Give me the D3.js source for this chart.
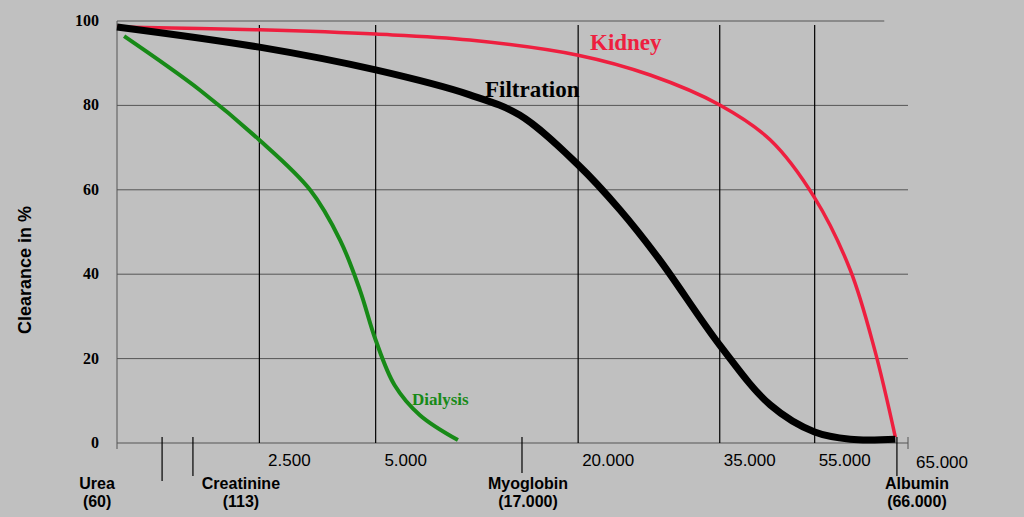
<!DOCTYPE html>
<html><head><meta charset="utf-8">
<script src="https://cdn.jsdelivr.net/npm/d3@7"></script>
<style>body{margin:0;background:#c0c0c0;}</style>
</head><body>
<script>
// x is an uneven molecular-weight axis, so positions are stored as 0..100 along the axis
var margin = {top: 21, left: 117};
var width = 791, height = 422;

var grid = [ {p:18, label:"2.500"}, {p:32.7, label:"5.000"}, {p:58.3, label:"20.000"},
             {p:76.2, label:"35.000"}, {p:88.2, label:"55.000"} ];
var markers = [ {p:5.7, name:"Urea", mw:"(60)", len:38, dx:-65},
                {p:9.6, name:"Creatinine", mw:"(113)", len:33, dx:48},
                {p:51.2, name:"Myoglobin", mw:"(17.000)", len:30, dx:6},
                {p:98.6, name:"Albumin", mw:"(66.000)", len:33, dx:20} ];

var series = [
  {name:"Kidney", color:"#ee1f3f", w:3.5, lx:590, ly:50, fs:23,
   data:[[0,98.6],[18,97.9],[32.7,96.9],[44.6,95.5],[58.3,91.9],[67.4,87.2],[76.2,80.1],
         [82.6,71.8],[88.2,58.1],[92.7,41.0],[95.8,22.0],[98.4,1.4]]},
  {name:"Filtration", color:"#000", w:7, lx:485, ly:97, fs:23,
   data:[[0,98.6],[18,93.8],[32.7,88.4],[44.6,82.5],[50.9,77.7],[58.3,65.9],[63.6,55.2],
         [68.6,43.4],[76.2,23.2],[82.6,9.0],[88.2,2.6],[92.7,0.9],[98.4,0.9]]},
  {name:"Dialysis", color:"#178a17", w:4, lx:412, ly:405, fs:17,
   data:[[0.9,96.4],[10.5,83.6],[18,71.8],[24.4,60.0],[28.2,48.1],[30.7,36.3],[32.7,24.4],
         [35.1,13.7],[38.3,6.6],[43.1,0.7]]}
];

var x = d3.scaleLinear().domain([0,100]).range([0,width]);
var y = d3.scaleLinear().domain([0,100]).range([height,0]);

var svg = d3.select("body").append("svg").attr("width",1024).attr("height",517)
  .append("g").attr("transform","translate("+margin.left+","+margin.top+")");

// horizontal grid
svg.selectAll(".hg").data([0,20,40,60,80,100]).enter().append("line")
  .attr("x1",0).attr("x2",function(d){return d==100? x(97): x(100);})
  .attr("y1",function(d){return y(d);}).attr("y2",function(d){return y(d);})
  .attr("stroke","#555").attr("stroke-width",1);
svg.selectAll(".yt").data([0,20,40,60,80,100]).enter().append("text")
  .attr("x",-18).attr("y",function(d){return y(d)+5;}).attr("text-anchor","end")
  .style("font","bold 16px 'Liberation Serif', serif").text(function(d){return d;});

// vertical grid
svg.append("line").attr("x1",0).attr("x2",0).attr("y1",0).attr("y2",height+6).attr("stroke","#555");
svg.append("line").attr("x1",x(100)).attr("x2",x(100)).attr("y1",height-6).attr("y2",height+6).attr("stroke","#555");
svg.selectAll(".vg").data(grid).enter().append("line")
  .attr("x1",function(d){return x(d.p);}).attr("x2",function(d){return x(d.p);})
  .attr("y1",4).attr("y2",height).attr("stroke","#000").attr("stroke-width",1.2);
svg.selectAll(".xt").data(grid).enter().append("text")
  .attr("x",function(d){return x(d.p)+30;}).attr("y",height+23).attr("text-anchor","middle")
  .style("font","17px 'Liberation Sans', Arial, sans-serif").text(function(d){return d.label;});
svg.append("text").attr("x",x(100)+8).attr("y",height+25)
  .style("font","17px 'Liberation Sans', Arial, sans-serif").text("65.000");

// substance markers
var m = svg.selectAll(".mk").data(markers).enter().append("g");
m.append("line").attr("x1",function(d){return x(d.p);}).attr("x2",function(d){return x(d.p);})
  .attr("y1",height-6).attr("y2",function(d){return height+d.len;}).attr("stroke","#000").attr("stroke-width",1.2);
m.append("text").attr("x",function(d){return x(d.p)+d.dx;}).attr("y",height+46).attr("text-anchor","middle")
  .style("font","bold 16px 'Liberation Sans', Arial, sans-serif").text(function(d){return d.name;});
m.append("text").attr("x",function(d){return x(d.p)+d.dx;}).attr("y",height+64).attr("text-anchor","middle")
  .style("font","bold 16px 'Liberation Sans', Arial, sans-serif").text(function(d){return d.mw;});

// curves
var line = d3.line().x(function(d){return x(d[0]);}).y(function(d){return y(d[1]);}).curve(d3.curveCatmullRom.alpha(0.5));
series.forEach(function(s){
  svg.append("path").datum(s.data).attr("d",line).attr("fill","none")
    .attr("stroke",s.color).attr("stroke-width",s.w);
  svg.append("text").attr("x",s.lx-margin.left).attr("y",s.ly-margin.top).attr("fill",s.color)
    .style("font","bold "+s.fs+"px 'Liberation Serif', serif").text(s.name);
});

d3.select("svg").append("text").attr("transform","translate(31,270) rotate(-90)")
  .attr("text-anchor","middle").style("font","bold 18px 'Liberation Sans', Arial, sans-serif")
  .text("Clearance in %");
</script>
</body></html>
